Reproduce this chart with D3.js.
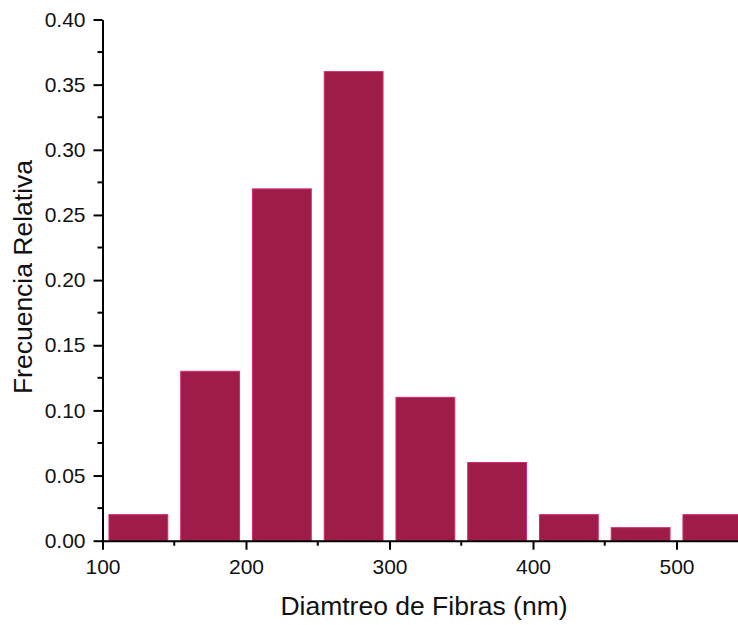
<!DOCTYPE html>
<html>
<head>
<meta charset="utf-8">
<script src="https://cdn.jsdelivr.net/npm/d3@7"></script>
<style>
  html, body { margin: 0; padding: 0; background: #ffffff; }
  svg { display: block; }
  text { font-family: "Liberation Sans", Arial, sans-serif; fill: #111; }
</style>
</head>
<body>
<svg id="chart" width="738" height="625"></svg>
<script>
// Data
const binCenters = [125, 175, 225, 275, 325, 375, 425, 475, 525];
const frequencies = [0.02, 0.13, 0.27, 0.36, 0.11, 0.06, 0.02, 0.01, 0.02];
const binWidth = 50;
const xTickValues = [100, 200, 300, 400, 500];
const yTickValues = [0.00, 0.05, 0.10, 0.15, 0.20, 0.25, 0.30, 0.35, 0.40];
const xTitle = "Diamtreo de Fibras (nm)";
const yTitle = "Frecuencia Relativa";

(function () {
const svg = d3.select("#chart");
const mLeft = 102.5, mTop = 19.5, mBottom = 540.7;
const x = d3.scaleLinear().domain([100, 550]).range([mLeft, mLeft + 450 * 1.435]);
const y = d3.scaleLinear().domain([0, 0.40]).range([mBottom, mTop]);

// Bars
const barFrac = 0.82;
svg.append("g").selectAll("rect")
  .data(binCenters.map((c, i) => ({c, v: frequencies[i]})))
  .join("rect")
  .attr("x", d => x(d.c - binWidth * barFrac / 2))
  .attr("width", d => x(d.c + binWidth * barFrac / 2) - x(d.c - binWidth * barFrac / 2))
  .attr("y", d => y(d.v))
  .attr("height", d => y(0) - y(d.v))
  .attr("fill", "#9e1c48")
  .attr("stroke", "#d62a72")
  .attr("stroke-width", 1);

// X axis
const xMinor = d3.range(150, 551, 100);
const gx = svg.append("g").attr("transform", `translate(0,${mBottom})`);
gx.call(d3.axisBottom(x).tickValues(xTickValues).tickFormat(d3.format("d")).tickSize(9).tickSizeOuter(0))
  .call(g => g.select(".domain").attr("stroke", "#000").attr("stroke-width", 2))
  .call(g => g.selectAll(".tick line").attr("stroke", "#000").attr("stroke-width", 2))
  .call(g => g.selectAll(".tick text").attr("font-size", 21).attr("dy", "1.0em"));
gx.append("g").selectAll("line").data(xMinor).join("line")
  .attr("x1", d => x(d)).attr("x2", d => x(d)).attr("y1", 0).attr("y2", 5)
  .attr("stroke", "#000").attr("stroke-width", 2);

// Y axis
const yMinor = d3.range(0.025, 0.40, 0.05);
const gy = svg.append("g").attr("transform", `translate(${mLeft},0)`);
gy.call(d3.axisLeft(y).tickValues(yTickValues).tickFormat(d3.format(".2f")).tickSize(9).tickSizeOuter(0))
  .call(g => g.select(".domain").attr("stroke", "#000").attr("stroke-width", 2))
  .call(g => g.selectAll(".tick line").attr("stroke", "#000").attr("stroke-width", 2))
  .call(g => g.selectAll(".tick text").attr("font-size", 21).attr("x", -17));
gy.append("g").selectAll("line").data(yMinor).join("line")
  .attr("y1", d => y(d)).attr("y2", d => y(d)).attr("x1", 0).attr("x2", -5)
  .attr("stroke", "#000").attr("stroke-width", 2);

// Titles
svg.append("text")
  .attr("x", 424).attr("y", 615)
  .attr("text-anchor", "middle")
  .attr("font-size", 26.5)
  .text(xTitle);
svg.append("text")
  .attr("transform", `translate(32,277) rotate(-90)`)
  .attr("text-anchor", "middle")
  .attr("font-size", 26.5)
  .text(yTitle);
})();
</script>
</body>
</html>
